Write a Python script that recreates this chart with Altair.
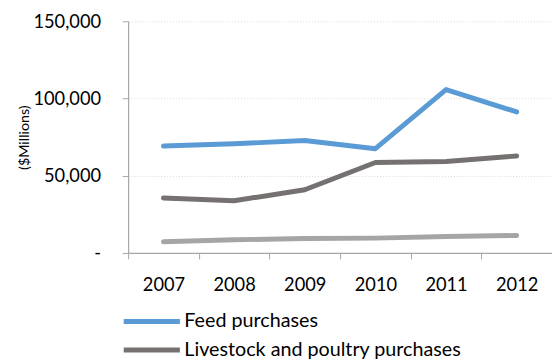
import altair as alt
import pandas as pd

years = ["2007", "2008", "2009", "2010", "2011", "2012"]
feed = [69200, 70700, 72800, 67500, 105800, 91300]
livestock = [35600, 33800, 40900, 58600, 59200, 62800]
other = [7200, 8500, 9400, 9600, 10700, 11300]

series_names = ["Feed purchases", "Livestock and poultry purchases", "Other purchases"]
series_colors = ["#5B9BD5", "#767171", "#A5A5A5"]

rows = []
for name, vals in zip(series_names, [feed, livestock, other]):
    for y, v in zip(years, vals):
        rows.append({"Year": y, "Value": v, "Series": name})
df = pd.DataFrame(rows)

FONT = "Lato"

chart = alt.Chart(df).mark_line(strokeWidth=5, strokeCap="round", strokeJoin="round").encode(
    x=alt.X("Year:N", bandPosition=0.5,
            scale=alt.Scale(type="band", paddingInner=0, paddingOuter=0),
            axis=alt.Axis(title=None, labelAngle=0, tickBand="extent", grid=False,
                          labelPadding=17, tickSize=6)),
    y=alt.Y("Value:Q", scale=alt.Scale(domain=[0, 150000], nice=False),
            axis=alt.Axis(title="($Millions)", values=[0, 50000, 100000, 150000],
                          labelExpr="datum.value == 0 ? '-\u00a0\u00a0' : format(datum.value, ',')",
                          tickSize=6, labelPadding=22, titlePadding=2,
                          grid=True, gridDash=[1, 2], gridColor="#D9D9D9")),
    color=alt.Color("Series:N", scale=alt.Scale(domain=series_names, range=series_colors),
                    legend=alt.Legend(title=None, orient="none", legendX=-7, legendY=290,
                                      direction="vertical", symbolType="stroke",
                                      symbolSize=3249, symbolStrokeWidth=5,
                                      labelOffset=2, labelLimit=500, clipHeight=29,
                                      rowPadding=0, padding=0)),
    order=alt.Order("Series:N"),
).properties(
    width=430, height=235,
    autosize=alt.AutoSizeParams(type="none"),
    padding={"left": 130, "top": 19, "right": 0, "bottom": 106},
).configure_view(stroke=None).configure_axis(
    labelFont=FONT, labelFontSize=18.5, labelColor="#000000",
    titleFont=FONT, titleFontSize=14.5, titleFontWeight="normal", titleColor="#000000",
    domainColor="#A6A6A6", tickColor="#A6A6A6", domainWidth=1.2,
).configure_legend(
    labelFont=FONT, labelFontSize=20, labelColor="#000000",
)

chart.save("out.html", embed_options={"renderer": "svg", "actions": False})
